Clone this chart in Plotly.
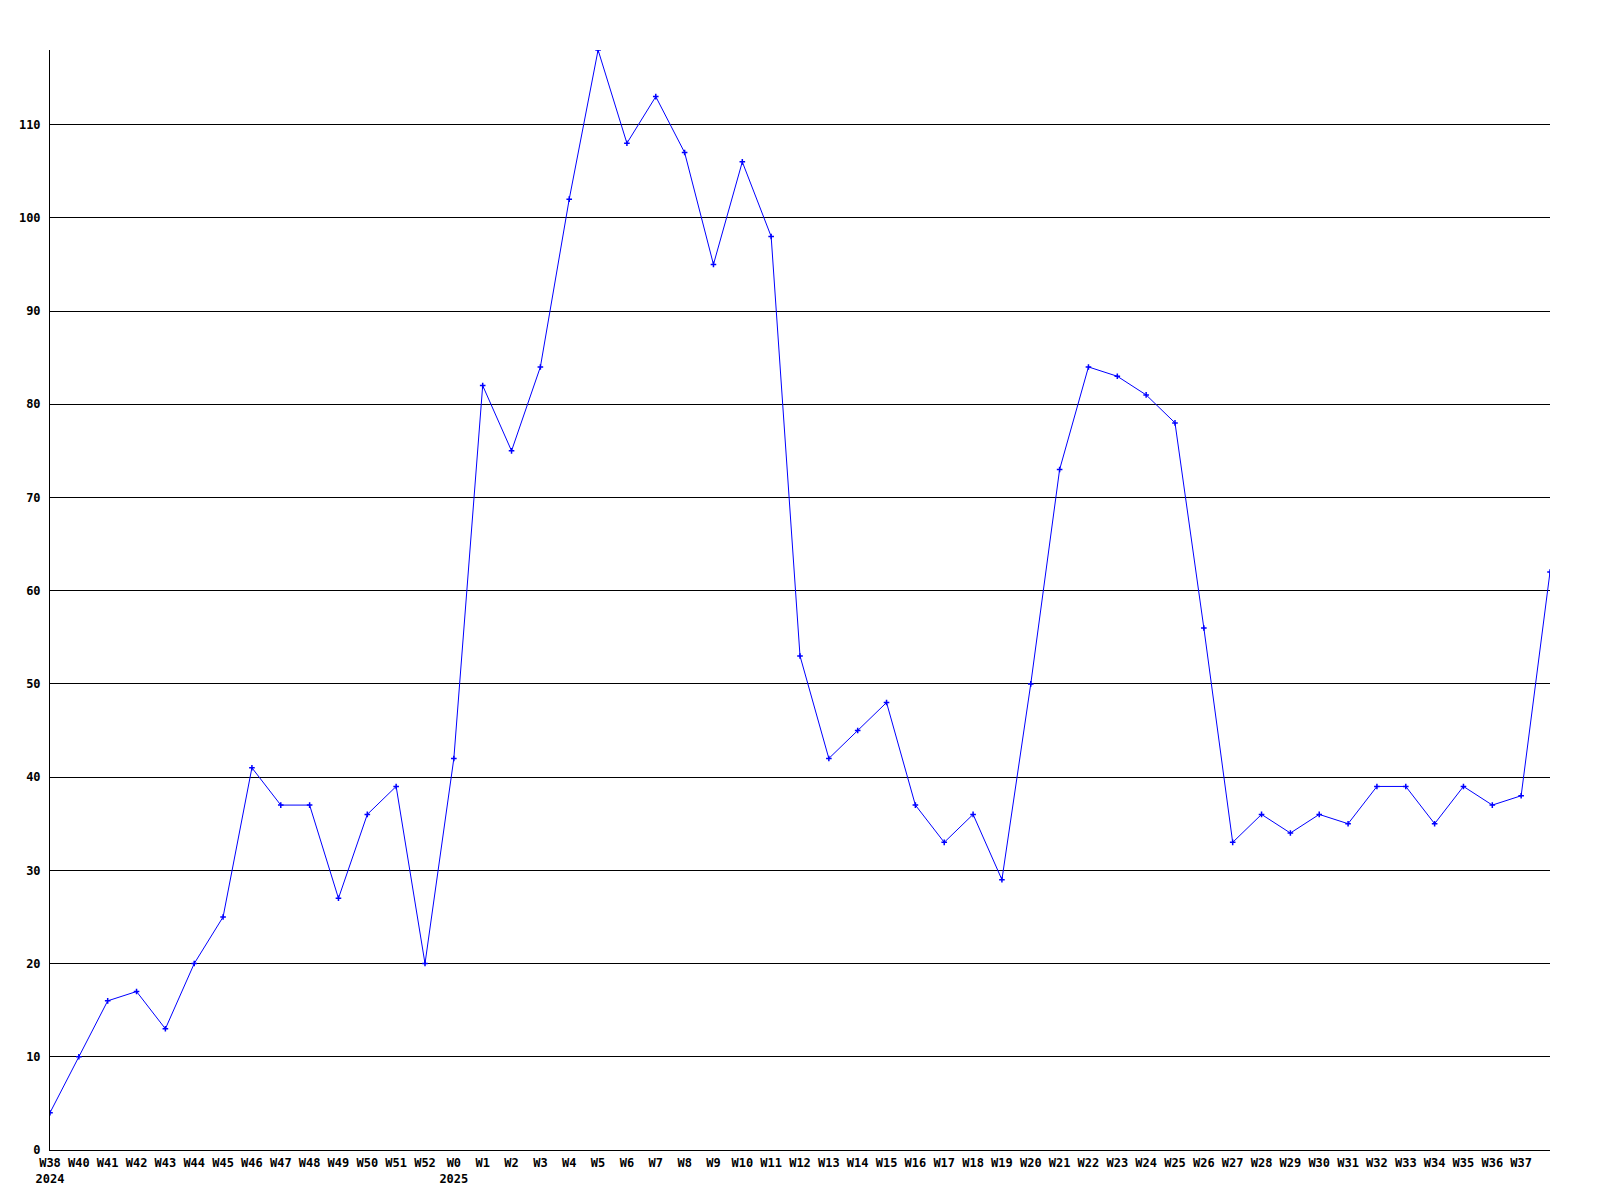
import plotly.graph_objects as go

week_labels = ["W38<br>2024", "W40", "W41", "W42", "W43", "W44", "W45", "W46", "W47", "W48",
               "W49", "W50", "W51", "W52", "W0<br>2025", "W1", "W2", "W3", "W4", "W5",
               "W6", "W7", "W8", "W9", "W10", "W11", "W12", "W13", "W14", "W15",
               "W16", "W17", "W18", "W19", "W20", "W21", "W22", "W23", "W24", "W25",
               "W26", "W27", "W28", "W29", "W30", "W31", "W32", "W33", "W34", "W35",
               "W36", "W37", ""]
values = [4, 10, 16, 17, 13, 20, 25, 41, 37, 37,
          27, 36, 39, 20, 42, 82, 75, 84, 102, 118,
          108, 113, 107, 95, 106, 98, 53, 42, 45, 48,
          37, 33, 36, 29, 50, 73, 84, 83, 81, 78,
          56, 33, 36, 34, 36, 35, 39, 39, 35, 39,
          37, 38, 62]
y_ticks = [0, 10, 20, 30, 40, 50, 60, 70, 80, 90, 100, 110]

x_idx = list(range(len(values)))

fig = go.Figure()
fig.add_trace(go.Scatter(
    x=x_idx, y=values, mode="lines+markers",
    line=dict(color="#0000ff", width=1),
    marker=dict(symbol="cross-thin", size=4, line=dict(color="#0000ff", width=1.5), color="#0000ff"),
    showlegend=False, hoverinfo="x+y",
))

tick_font = dict(family="DejaVu Sans Mono", size=12, color="black", weight="bold")

fig.update_layout(
    width=1600, height=1200,
    margin=dict(l=42, r=58, t=42, b=58),
    paper_bgcolor="white", plot_bgcolor="white",
    xaxis=dict(
        range=[0, len(values) - 1],
        tickmode="array", tickvals=x_idx, ticktext=week_labels,
        showgrid=False, zeroline=False, automargin=False,
        showline=True, linecolor="black", linewidth=1,
        ticks="", tickfont=tick_font, tickangle=0, ticklabelstandoff=2,
    ),
    yaxis=dict(
        range=[0, 118],
        tickmode="array", tickvals=y_ticks, ticktext=[str(v) for v in y_ticks],
        showgrid=True, gridcolor="black", gridwidth=1,
        zeroline=False, automargin=False,
        showline=True, linecolor="black", linewidth=1,
        ticks="", tickfont=tick_font, ticklabelstandoff=6,
    ),
)

fig.write_html("out.html")
